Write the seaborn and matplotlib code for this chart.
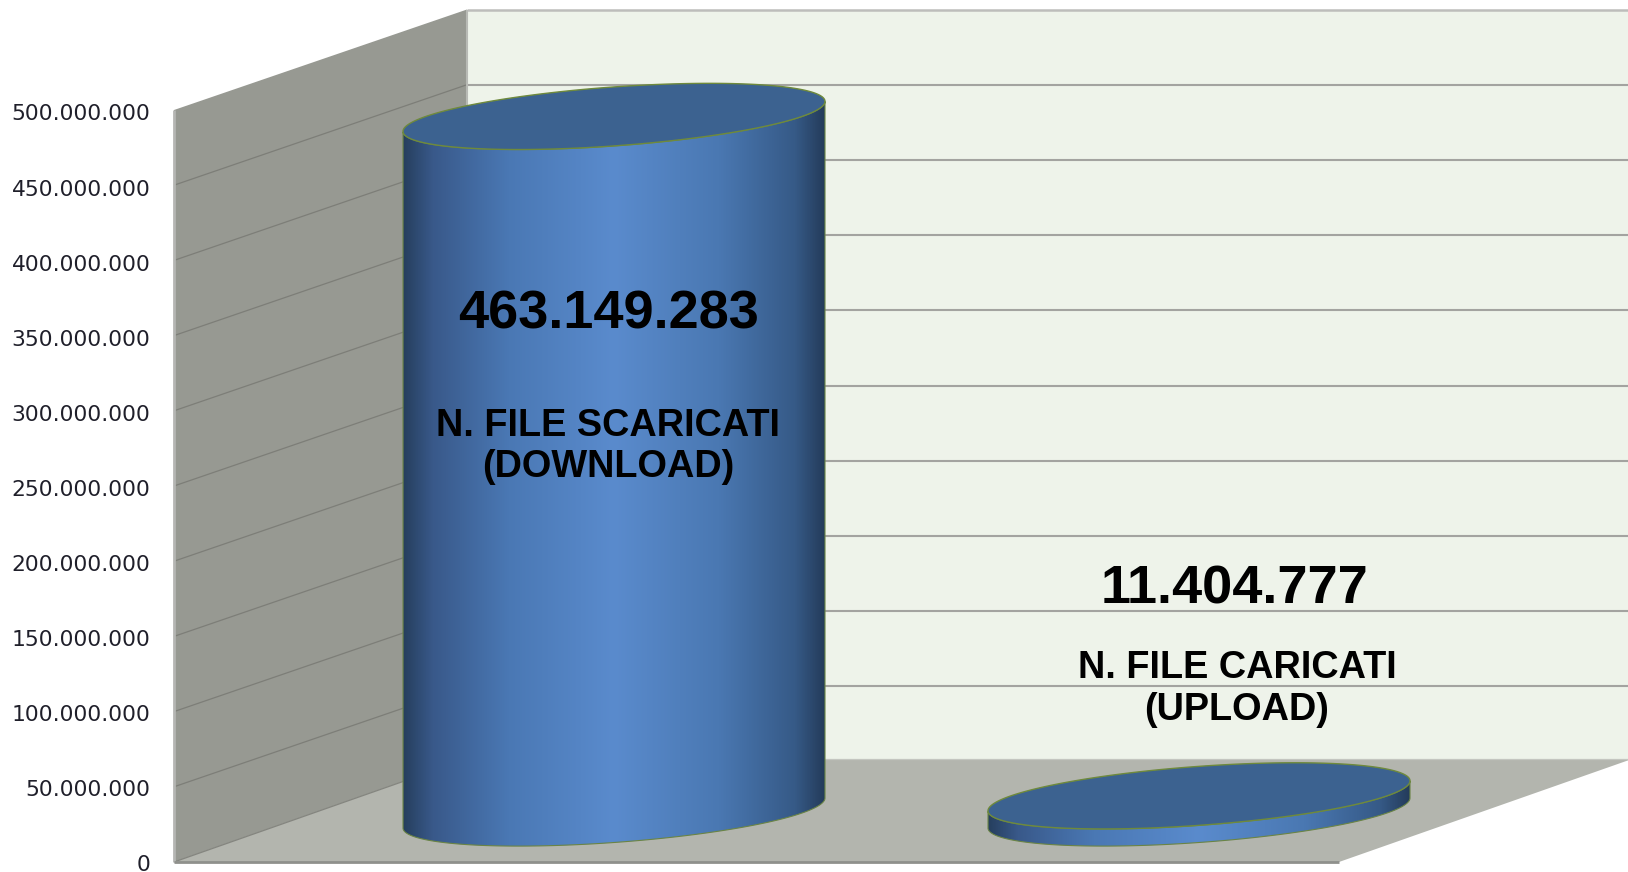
import numpy as np
import pandas as pd
import matplotlib
matplotlib.use("Agg")
import matplotlib.pyplot as plt
from matplotlib.colors import LinearSegmentedColormap
from matplotlib.patches import Polygon
from matplotlib.transforms import Affine2D, ScaledTranslation
import seaborn as sns

# ---- data ----
categories = ["N. FILE SCARICATI\n(DOWNLOAD)", "N. FILE CARICATI\n(UPLOAD)"]
values = [463149283, 11404777]
value_labels = ["463.149.283", "11.404.777"]
tick_values = [0, 50000000, 100000000, 150000000, 200000000, 250000000,
               300000000, 350000000, 400000000, 450000000, 500000000]
tick_labels = ["0", "50.000.000", "100.000.000", "150.000.000", "200.000.000", "250.000.000",
               "300.000.000", "350.000.000", "400.000.000", "450.000.000", "500.000.000"]

# ---- layout (pixels of the 1628x872 canvas) ----
W, H = 1628, 872
FRONT_L, FRONT_R, FRONT_0, FRONT_TOP = 174, 1339, 862, 110
DX, DY = 293, 100.5                    # depth shift of the box
FLOOR_BACK = 759
PX_PER_UNIT = (FRONT_0 - FRONT_TOP) / tick_values[-1]
CYL_X0, CYL_STEP, CYL_W = 614, 585, 422
CYL_BASE = 813
TILT, RY = 15, 29.5                    # ellipse shape in px

sns.set_theme(style="white")
fig = plt.figure(figsize=(W / 100, H / 100), dpi=100, facecolor="white")
px = Affine2D().scale(1, -1).translate(0, H)  # canvas px -> display

# ---- frame axes: y axis, walls, floor ----
ax = fig.add_axes([FRONT_L / W, 1 - FRONT_0 / H, (FRONT_R - FRONT_L) / W, (FRONT_0 - FRONT_TOP) / H])
ax.set_ylim(0, tick_values[-1])
ax.set_xlim(0, 1)
ax.patch.set_alpha(0)
sns.despine(ax=ax, left=True, bottom=True)
ax.set_xticks([])
ax.set_yticks(tick_values)
ax.set_yticklabels(tick_labels, fontsize=15.7, family="DejaVu Sans", color="#1f1f2a")
ax.tick_params(axis="y", length=0, pad=16.8)
for lab, v in zip(ax.get_yticklabels(), tick_values):
    lab.set_verticalalignment("center")
    shift = (4.5 - 1.5 * (1 - v / tick_values[-1])) / 100
    lab.set_transform(lab.get_transform() + ScaledTranslation(0, -shift, fig.dpi_scale_trans))

BACK_L, BACK_R = FRONT_L + DX, FRONT_R + DX
def add_poly(pts, color):
    ax.add_patch(Polygon(pts, closed=True, facecolor=color, edgecolor="none",
                         transform=px, clip_on=False, zorder=0))

back_top = FRONT_TOP - DY
add_poly([(BACK_L, back_top), (BACK_R, back_top), (BACK_R, FLOOR_BACK), (BACK_L, FLOOR_BACK)], "#eef3ea")
add_poly([(FRONT_L, FRONT_0), (FRONT_R, FRONT_0), (BACK_R, FLOOR_BACK), (BACK_L, FLOOR_BACK)], "#b3b5ae")
add_poly([(FRONT_L, FRONT_TOP), (BACK_L, back_top), (BACK_L, FLOOR_BACK), (FRONT_L, FRONT_0)], "#979992")

def seg(xs, ys, color, lw):
    ax.plot(xs, ys, color=color, lw=lw, transform=px, clip_on=False, zorder=1,
            solid_capstyle="butt")

for v in tick_values[1:-1]:
    yf = FRONT_0 - v * PX_PER_UNIT
    seg([FRONT_L, BACK_L], [yf, yf - DY], "#7d7e78", 0.9)
    seg([BACK_L, W], [yf - DY, yf - DY], "#a3a3a0", 1.5)
seg([FRONT_L, BACK_L], [FRONT_0, FLOOR_BACK], "#84857f", 0.9)
seg([BACK_L, W], [back_top, back_top], "#bdbdbb", 1.8)
seg([BACK_L, BACK_L], [back_top, FLOOR_BACK], "#b8bab5", 1.5)
seg([FRONT_L, FRONT_L], [FRONT_TOP, FRONT_0], "#b5b6b3", 2.0)
seg([FRONT_L, FRONT_R], [FRONT_0, FRONT_0], "#8f908c", 2.0)
seg([BACK_L, W], [FLOOR_BACK, FLOOR_BACK], "#c4c6c0", 0.9)

# ---- cylinders: seaborn bars on a plane set back inside the box ----
ax_b = fig.add_axes([0, 0, 1, 1], zorder=3)
ax_b.patch.set_alpha(0)
df = pd.DataFrame({"cat": categories, "val": values})
sns.barplot(data=df, x="cat", y="val", color="#4a78b4", saturation=1,
            width=CYL_W / CYL_STEP, errorbar=None, ax=ax_b, zorder=2)
xlim = (-CYL_X0 / CYL_STEP, (W - CYL_X0) / CYL_STEP)
ylim = (-(H - CYL_BASE) / PX_PER_UNIT, CYL_BASE / PX_PER_UNIT)
ax_b.set_xlim(xlim)
ax_b.set_ylim(ylim)
ax_b.axis("off")

body_cmap = LinearSegmentedColormap.from_list("cyl", [
    (0.00, "#263f5e"), (0.07, "#39598a"), (0.25, "#4a78b4"), (0.50, "#5a8bcd"),
    (0.75, "#4a78b2"), (0.93, "#365a87"), (1.00, "#243c5b")])

t = np.linspace(0, 2 * np.pi, 361)
for bar in ax_b.patches:
    left, w, h = bar.get_x(), bar.get_width(), bar.get_height()
    cx = left + w / 2
    tilt_d = TILT / PX_PER_UNIT
    ry_d = RY / PX_PER_UNIT
    ex = cx + w / 2 * np.cos(t)
    ey = tilt_d * np.cos(t) + ry_d * np.sin(t)      # y up: right side is higher

    # body outline: front half of the base plus the sides up to the top ellipse
    order = np.where(np.sin(t) <= 0)[0]
    bx = ex[order]; by = ey[order]
    idx = np.argsort(bx)
    bx, by = bx[idx], by[idx]
    tx = bx[::-1]; ty = by[::-1] + h
    outline = np.column_stack([np.r_[bx, tx], np.r_[by, ty]])
    body = Polygon(outline, closed=True, facecolor="none", edgecolor="#6a8445", lw=0.8,
                   transform=ax_b.transData, zorder=4)
    ax_b.add_patch(body)
    bar.set_clip_path(body)
    grad = np.linspace(0, 1, 512).reshape(1, -1)
    im = ax_b.imshow(grad, cmap=body_cmap, aspect="auto", zorder=3,
                     extent=(left, left + w, ylim[0], ylim[1]), interpolation="bilinear")
    im.set_clip_path(body)
    # top face
    ax_b.add_patch(Polygon(np.column_stack([ex, ey + h]), closed=True, facecolor="#3c6290",
                           edgecolor="#6f8a3c", lw=1.0, transform=ax_b.transData, zorder=5))
ax_b.set_xlim(xlim)
ax_b.set_ylim(ylim)

# ---- labels inside the plot ----
BOLD = "Liberation Sans"
for x, y, s in [(609, 314, value_labels[0]), (1234, 589, value_labels[1])]:
    ax_b.text(x, y, s, transform=px, ha="center", va="center", family=BOLD,
              fontweight="bold", fontsize=39, color="black", zorder=8)
for x, y, s in [(608, 446.5, categories[0]), (1237, 689, categories[1])]:
    ax_b.text(x, y, s, transform=px, ha="center", va="center", family=BOLD,
              fontweight="bold", fontsize=27.3, color="black", linespacing=1.2,
              multialignment="center", zorder=8)

fig.savefig("out.png", dpi=100, facecolor="white")
